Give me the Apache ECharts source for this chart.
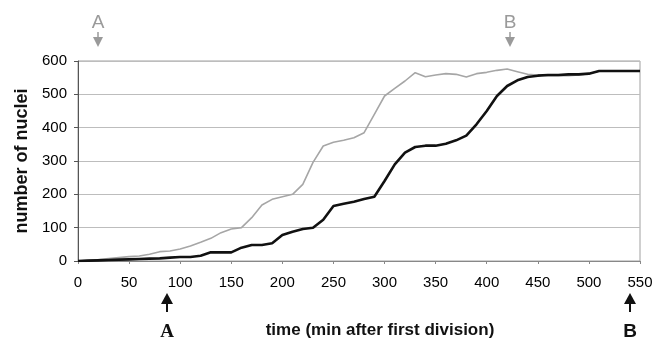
<!DOCTYPE html>
<html>
<head>
<meta charset="utf-8">
<script src="https://cdn.jsdelivr.net/npm/echarts@6/dist/echarts.min.js"></script>
<style>html,body{margin:0;padding:0;background:#fff}#c{width:665px;height:344px}</style>
</head>
<body>
<div id="c"></div>
<script>
// time in minutes after first division
const times = [0,10,20,30,40,50,60,70,80,90,100,110,120,130,140,150,160,170,180,190,200,210,220,230,240,250,260,270,280,290,300,310,320,330,340,350,360,370,380,390,400,410,420,430,440,450,460,470,480,490,500,510,520,530,540,550];
// earlier embryo (grey curve)
const greyNuclei = [0,2,4,7,10,13,15,20,28,30,36,45,56,68,85,96,100,130,168,185,193,200,230,296,345,356,362,370,385,440,495,518,540,565,553,558,562,560,552,562,566,572,576,568,560,558,556,556,556,558,562,570,570,570,570,570];
// later embryo (black curve)
const blackNuclei = [0,1,2,3,4,5,6,7,8,10,12,12,16,26,26,26,40,48,48,53,78,88,96,100,124,165,172,178,186,193,240,290,325,342,346,346,352,362,376,410,450,495,525,542,552,556,558,558,560,560,562,570,570,570,570,570];
// x tick labels
const xTicks = [0,50,100,150,200,250,300,350,400,450,500,550];
const yTicks = [0,100,200,300,400,500,600];
// annotation markers (time positions)
const greyMarkerLabels = ['A','B'];
const greyMarkerTimes = [20,423];
const blackMarkerLabels = ['A','B'];
const blackMarkerTimes = [87,540];

const chart = echarts.init(document.getElementById('c'), null, {renderer:'canvas'});
const pairs = (xs, ys) => xs.map((x,i)=>[x, ys[i]]);
const font = 'Liberation Sans, Arial, sans-serif';

chart.setOption({
  animation:false,
  backgroundColor:'#fff',
  grid:{left:78,right:25,top:61,bottom:83,show:true,borderColor:'#a0a0a0',borderWidth:1},
  xAxis:{
    type:'value',min:xTicks[0],max:xTicks[xTicks.length-1],interval:50,
    name:'time (min after first division)',nameLocation:'middle',nameGap:61,
    nameTextStyle:{fontFamily:font,fontSize:17,fontWeight:'bold',color:'#111',padding:[0,0,0,42]},
    axisLine:{show:true,lineStyle:{color:'#888',width:1}},
    axisTick:{show:true,inside:false,length:3,lineStyle:{color:'#888'}},
    axisLabel:{fontFamily:font,fontSize:15,color:'#000',margin:14,
      formatter:v=>xTicks.includes(v)?String(v):''},
    splitLine:{show:false}
  },
  yAxis:{
    type:'value',min:yTicks[0],max:yTicks[yTicks.length-1],interval:100,
    name:'number of nuclei',nameLocation:'middle',nameGap:42,nameRotate:90,
    nameTextStyle:{fontFamily:font,fontSize:18,fontWeight:'bold',color:'#111'},
    axisLine:{show:true,lineStyle:{color:'#555',width:1}},
    axisTick:{show:true,length:4,lineStyle:{color:'#555'}},
    axisLabel:{fontFamily:font,fontSize:15,color:'#000',margin:11},
    splitLine:{show:true,lineStyle:{color:'#bdbdbd',width:1}}
  },
  series:[
    {type:'line',data:pairs(times,greyNuclei),showSymbol:false,symbol:'none',
     lineStyle:{color:'#a6a6a6',width:1.6},z:2},
    {type:'line',data:pairs(times,blackNuclei),showSymbol:false,symbol:'none',
     lineStyle:{color:'#111',width:2.6},z:3}
  ]
});

// annotation arrows & letters, positioned from the axis scale
const y0 = chart.convertToPixel({gridIndex:0},[0,0])[1];
const yTop = chart.convertToPixel({gridIndex:0},[0,600])[1];
const graphics = [];
greyMarkerTimes.forEach((t,i)=>{
  const x = Math.round(chart.convertToPixel({gridIndex:0},[t,0])[0]);
  graphics.push({type:'text',x:x,y:yTop-38,style:{text:greyMarkerLabels[i],fill:'#9a9a9a',font:'19px '+font,textAlign:'center',textVerticalAlign:'middle'}});
  graphics.push({type:'line',shape:{x1:x,y1:yTop-29,x2:x,y2:yTop-22},style:{stroke:'#9a9a9a',lineWidth:1.5}});
  graphics.push({type:'polygon',shape:{points:[[x-5,yTop-24],[x+5,yTop-24],[x,yTop-14]]},style:{fill:'#9a9a9a'}});
});
blackMarkerTimes.forEach((t,i)=>{
  const x = Math.round(chart.convertToPixel({gridIndex:0},[t,0])[0]);
  const isSerif = i===0;
  graphics.push({type:'text',x:x,y:y0+71,style:{text:blackMarkerLabels[i],fill:'#111',
    font:'bold 19px '+(isSerif?'Liberation Serif, Times New Roman, serif':font),textAlign:'center',textVerticalAlign:'middle'}});
  graphics.push({type:'line',shape:{x1:x,y1:y0+51,x2:x,y2:y0+41},style:{stroke:'#111',lineWidth:2}});
  graphics.push({type:'polygon',shape:{points:[[x-6,y0+43],[x+6,y0+43],[x,y0+32]]},style:{fill:'#111'}});
});
chart.setOption({graphic:graphics});
</script>
</body>
</html>
